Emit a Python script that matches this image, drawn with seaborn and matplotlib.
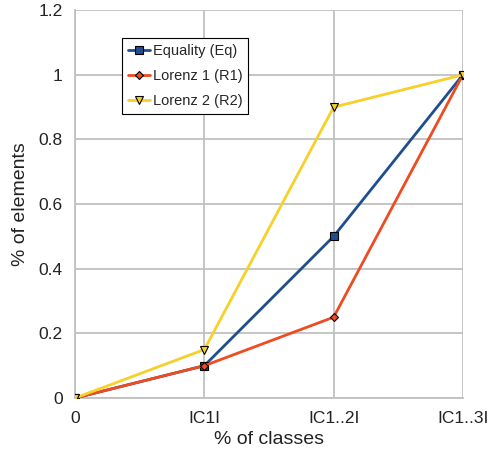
import matplotlib
matplotlib.use("Agg")
import matplotlib.pyplot as plt
import seaborn as sns
import pandas as pd

categories = ["0", "IC1I", "IC1..2I", "IC1..3I"]
equality = [0, 0.1, 0.5, 1.0]
lorenz1 = [0, 0.1, 0.25, 1.0]
lorenz2 = [0, 0.15, 0.9, 1.0]
series_names = ["Equality (Eq)", "Lorenz 1 (R1)", "Lorenz 2 (R2)"]

rows = []
for name, vals in zip(series_names, [equality, lorenz1, lorenz2]):
    for i, v in enumerate(vals):
        rows.append({"x": i, "y": v, "series": name})
df = pd.DataFrame(rows)

sns.set_style("white")
plt.rcParams['font.family'] = ['Liberation Sans', 'DejaVu Sans']

fig = plt.figure(figsize=(4.94, 4.62), dpi=100)
ax = fig.add_axes([0.152, 0.1385, 0.785, 0.8395])

palette = {"Equality (Eq)": "#1F4E8E", "Lorenz 1 (R1)": "#EE4B22", "Lorenz 2 (R2)": "#F7D02A"}
markers = {"Equality (Eq)": "s", "Lorenz 1 (R1)": "D", "Lorenz 2 (R2)": "v"}
sizes_m = {"Equality (Eq)": 5.5, "Lorenz 1 (R1)": 4, "Lorenz 2 (R2)": 5.5}

for name in series_names:
    sub = df[df["series"] == name]
    sns.lineplot(data=sub, x="x", y="y", ax=ax, color=palette[name], marker=markers[name],
                 markersize=sizes_m[name], markeredgecolor="black", markeredgewidth=0.8,
                 linewidth=2, label=name, zorder=3)

ax.set_xlim(0, 3)
ax.set_ylim(0, 1.2)
ax.set_xticks(range(4))
ax.set_xticklabels(categories)
ax.set_yticks([0, 0.2, 0.4, 0.6, 0.8, 1.0, 1.2])
ax.set_yticklabels(["0", "0.2", "0.4", "0.6", "0.8", "1", "1.2"])
ax.grid(True, color="#C0C0C0", linewidth=1.3)
ax.set_axisbelow(True)
for s in ["top", "right"]:
    ax.spines[s].set_visible(False)
for s in ["left", "bottom"]:
    ax.spines[s].set_color("#C0C0C0")
    ax.spines[s].set_linewidth(1.3)
ax.tick_params(axis="both", which="both", length=4, color="#C0C0C0", width=1.3,
               labelsize=12.5, labelcolor="#222222", pad=5)
ax.set_xlabel("% of classes", fontsize=14, color="#222222", labelpad=4)
ax.set_ylabel("% of elements", fontsize=14, color="#222222", labelpad=7)
for sp in ax.spines.values():
    sp.set_clip_on(False)

leg = ax.legend(loc="upper left", bbox_to_anchor=(0.121, 0.928), fontsize=10.5,
                frameon=True, fancybox=False, edgecolor="black", framealpha=1,
                handlelength=1.5, handletextpad=0.2, borderpad=0.4, labelspacing=0.75,
                borderaxespad=0)
leg.get_frame().set_linewidth(0.8)

fig.savefig("out.png", dpi=100)
